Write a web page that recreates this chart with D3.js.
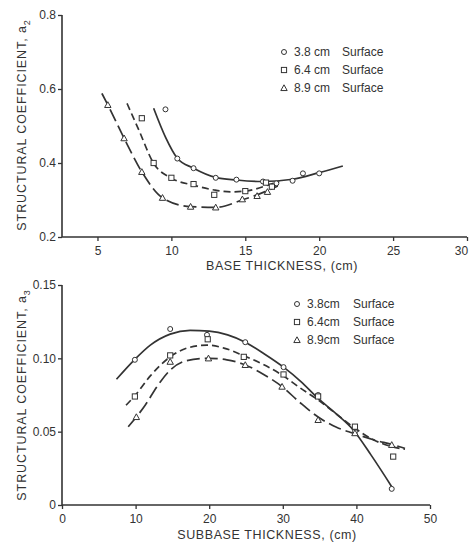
<!DOCTYPE html>
<html>
<head>
<meta charset="utf-8">
<script src="https://cdn.jsdelivr.net/npm/d3@7/dist/d3.min.js"></script>
<style>
  html, body { margin: 0; padding: 0; background: #fff; }
  svg { display: block; }
  text { font-family: "Liberation Sans", Arial, sans-serif; fill: #333; }
</style>
</head>
<body>
<svg id="chart" width="469" height="544"></svg>
<script>
// ---------- Top panel: base thickness (a2) ----------
const baseTicksX = [5, 10, 15, 20, 25, 30];
const baseTicksY = [0.2, 0.4, 0.6, 0.8];
const baseTickLabelsY = ["0.2", "0.4", "0.6", "0.8"];

const base38X = [9.6, 10.4, 11.5, 13.0, 14.4, 16.2, 17.1, 18.2, 18.9, 20.0];
const base38Y = [0.545, 0.412, 0.386, 0.360, 0.355, 0.350, 0.345, 0.352, 0.372, 0.372];
const base38CurveX = [8.8, 9.6, 10.4, 11.5, 13.0, 14.4, 16.1, 18.2, 20.0, 21.6];
const base38CurveY = [0.548, 0.470, 0.413, 0.386, 0.361, 0.354, 0.350, 0.356, 0.374, 0.392];

const base64X = [8.0, 8.8, 10.0, 11.5, 12.9, 15.0, 16.4, 16.8];
const base64Y = [0.521, 0.400, 0.360, 0.343, 0.314, 0.324, 0.347, 0.336];
const base64CurveX = [7.0, 7.8, 8.8, 10.0, 11.5, 12.9, 14.0, 15.0, 16.6, 17.3];
const base64CurveY = [0.561, 0.489, 0.399, 0.359, 0.340, 0.327, 0.322, 0.324, 0.341, 0.350];

const base89X = [5.7, 6.8, 8.0, 9.4, 11.3, 13.0, 14.8, 15.8, 16.5];
const base89Y = [0.557, 0.467, 0.376, 0.306, 0.282, 0.280, 0.302, 0.311, 0.322];
const base89CurveX = [5.3, 5.7, 6.8, 8.0, 9.4, 11.3, 13.0, 14.8, 16.6, 17.2];
const base89CurveY = [0.588, 0.557, 0.467, 0.376, 0.306, 0.282, 0.280, 0.300, 0.327, 0.338];

const baseLegend = [["3.8 cm", "Surface"], ["6.4 cm", "Surface"], ["8.9 cm", "Surface"]];

// ---------- Bottom panel: subbase thickness (a3) ----------
const subTicksX = [0, 10, 20, 30, 40, 50];
const subTicksY = [0, 0.05, 0.10, 0.15];
const subTickLabelsY = ["0", "0.05", "0.10", "0.15"];

const sub38X = [9.9, 14.7, 19.7, 24.9, 30.1, 34.8, 39.8, 44.8];
const sub38Y = [0.099, 0.120, 0.116, 0.111, 0.094, 0.075, 0.050, 0.011];
const sub38CurveX = [7.4, 9.9, 12.0, 14.7, 17.4, 20.0, 22.5, 24.9, 27.5, 30.1, 32.5, 34.8, 37.3, 39.6, 42.0, 44.8];
const sub38CurveY = [0.0857, 0.0993, 0.109, 0.1165, 0.119, 0.1185, 0.116, 0.111, 0.103, 0.094, 0.084, 0.0727, 0.062, 0.051, 0.034, 0.0125];

const sub64X = [9.9, 14.7, 19.8, 24.7, 30.1, 34.8, 39.8, 45.0];
const sub64Y = [0.074, 0.102, 0.113, 0.101, 0.089, 0.074, 0.0534, 0.033];
const sub64CurveX = [8.7, 9.9, 12.0, 14.7, 17.0, 19.7, 22.0, 24.6, 27.3, 29.9, 32.3, 34.8, 37.3, 39.8, 42.3, 44.8, 46.6];
const sub64CurveY = [0.068, 0.0745, 0.088, 0.101, 0.107, 0.109, 0.107, 0.102, 0.096, 0.0886, 0.080, 0.0716, 0.062, 0.0523, 0.0445, 0.0398, 0.038];

const sub89X = [10.1, 14.7, 19.9, 24.9, 29.9, 34.8, 39.8, 44.8];
const sub89Y = [0.060, 0.0977, 0.100, 0.0955, 0.0807, 0.058, 0.049, 0.041];
const sub89CurveX = [9.0, 10.1, 11.3, 12.9, 14.7, 16.9, 19.9, 22.4, 24.9, 27.4, 29.9, 32.3, 34.8, 37.3, 39.6, 42.3, 45.0, 46.6];
const sub89CurveY = [0.0534, 0.060, 0.068, 0.0807, 0.092, 0.0984, 0.100, 0.099, 0.0955, 0.089, 0.0807, 0.070, 0.060, 0.053, 0.0489, 0.0445, 0.041, 0.0386];

const subLegend = [["3.8cm", "Surface"], ["6.4cm", "Surface"], ["8.9cm", "Surface"]];

// ---------- drawing ----------
const svg = d3.select("#chart");
const ink = "#333";
const dashes = [null, "7,4", "13,5"];
const shapes = ["circle", "square", "triangle"];

function zip(xs, ys) { return xs.map((x, i) => [x, ys[i]]); }

function marker(g, shape, cx, cy) {
  if (shape === "circle") {
    g.append("circle").attr("cx", cx).attr("cy", cy).attr("r", 2.5)
      .attr("fill", "#fff").attr("stroke", ink).attr("stroke-width", 1);
  } else if (shape === "square") {
    g.append("rect").attr("x", cx - 2.6).attr("y", cy - 2.6).attr("width", 5.2).attr("height", 5.2)
      .attr("fill", "#fff").attr("stroke", ink).attr("stroke-width", 1);
  } else {
    const s = 3.2;
    g.append("path").attr("d", `M${cx},${cy - s} L${cx + s},${cy + s * 0.8} L${cx - s},${cy + s * 0.8} Z`)
      .attr("fill", "#fff").attr("stroke", ink).attr("stroke-width", 1);
  }
}

function panel(opt) {
  const x = d3.scaleLinear().domain(opt.xDomain).range(opt.xRange);
  const y = d3.scaleLinear().domain(opt.yDomain).range(opt.yRange);
  const g = svg.append("g");

  // axes
  const xAxis = d3.axisBottom(x).tickValues(opt.xTicks).tickSize(4).tickPadding(5)
    .tickFormat(d3.format("d"));
  const gx = g.append("g").attr("transform", `translate(0,${opt.yRange[0]})`).call(xAxis);
  const yAxis = d3.axisLeft(y).tickValues(opt.yTicks).tickSize(4).tickPadding(2)
    .tickFormat((d, i) => opt.yTickLabels[i]);
  const gy = g.append("g").attr("transform", `translate(${opt.xRange[0]},0)`).call(yAxis);
  [gx, gy].forEach(a => {
    a.select(".domain").attr("stroke", ink).attr("stroke-width", 1.6);
    a.selectAll(".tick line").attr("stroke", ink).attr("stroke-width", 1.3);
    a.selectAll(".tick text").attr("fill", ink).style("font-size", "12px")
      .style("font-family", "'Liberation Sans', Arial, sans-serif");
  });
  gy.select(".domain").attr("d", `M0,${opt.yRange[1]}V${opt.yRange[0]}`);
  gx.select(".domain").attr("d", `M${opt.xRange[0]},0H${opt.xRange[1]}`);
  // keep the last x tick label inside the window edge
  gx.selectAll(".tick text").filter(d => x(d) + 7 > 469).attr("dx", -6);

  // curves + markers
  const line = d3.line().x(d => x(d[0])).y(d => y(d[1])).curve(d3.curveMonotoneX);
  opt.series.forEach((s, i) => {
    g.append("path").datum(zip(s.cx, s.cy)).attr("d", line)
      .attr("fill", "none").attr("stroke", ink).attr("stroke-width", 1.7)
      .attr("stroke-dasharray", dashes[i]);
  });
  opt.series.forEach((s, i) => {
    zip(s.px, s.py).forEach(p => marker(g, shapes[i], x(p[0]), y(p[1])));
  });

  // legend
  opt.legend.forEach((l, i) => {
    const ly = opt.legendY + i * 18;
    marker(g, shapes[i], opt.legendX, ly);
    g.append("text").attr("x", opt.legendX + 10).attr("y", ly).attr("dy", "0.35em")
      .style("font-size", "12px").text(l[0]);
    g.append("text").attr("x", opt.legendX + opt.surfOffset).attr("y", ly).attr("dy", "0.35em")
      .style("font-size", "12px").text(l[1]);
  });

  // axis titles
  g.append("text").attr("x", opt.xTitleX).attr("y", opt.xTitleY).attr("text-anchor", "middle")
    .style("font-size", "12.5px").style("letter-spacing", "0.6px").text(opt.xTitle);
  const yt = g.append("text").attr("transform", `translate(26,${opt.yTitleY}) rotate(-90)`)
    .attr("text-anchor", "middle").style("font-size", "12.5px").style("letter-spacing", "0.9px");
  yt.append("tspan").text("STRUCTURAL  COEFFICIENT,  a");
  yt.append("tspan").attr("dy", "4").style("font-size", "9px").text(opt.sub);
}

panel({
  xDomain: [2.6, 30], xRange: [62, 467],
  yDomain: [0.2, 0.8], yRange: [237, 15],
  xTicks: baseTicksX, yTicks: baseTicksY, yTickLabels: baseTickLabelsY,
  series: [
    { px: base38X, py: base38Y, cx: base38CurveX, cy: base38CurveY },
    { px: base64X, py: base64Y, cx: base64CurveX, cy: base64CurveY },
    { px: base89X, py: base89Y, cx: base89CurveX, cy: base89CurveY }
  ],
  legend: baseLegend, legendX: 284, legendY: 52, surfOffset: 58,
  xTitle: "BASE THICKNESS, (cm)", xTitleX: 282, xTitleY: 270,
  yTitleY: 125, sub: "2"
});

panel({
  xDomain: [0, 50], xRange: [62, 430],
  yDomain: [0, 0.15], yRange: [505, 285],
  xTicks: subTicksX, yTicks: subTicksY, yTickLabels: subTickLabelsY,
  series: [
    { px: sub38X, py: sub38Y, cx: sub38CurveX, cy: sub38CurveY },
    { px: sub64X, py: sub64Y, cx: sub64CurveX, cy: sub64CurveY },
    { px: sub89X, py: sub89Y, cx: sub89CurveX, cy: sub89CurveY }
  ],
  legend: subLegend, legendX: 297, legendY: 304, surfOffset: 56,
  xTitle: "SUBBASE THICKNESS, (cm)", xTitleX: 267, xTitleY: 539,
  yTitleY: 395, sub: "3"
});
</script>
</body>
</html>
